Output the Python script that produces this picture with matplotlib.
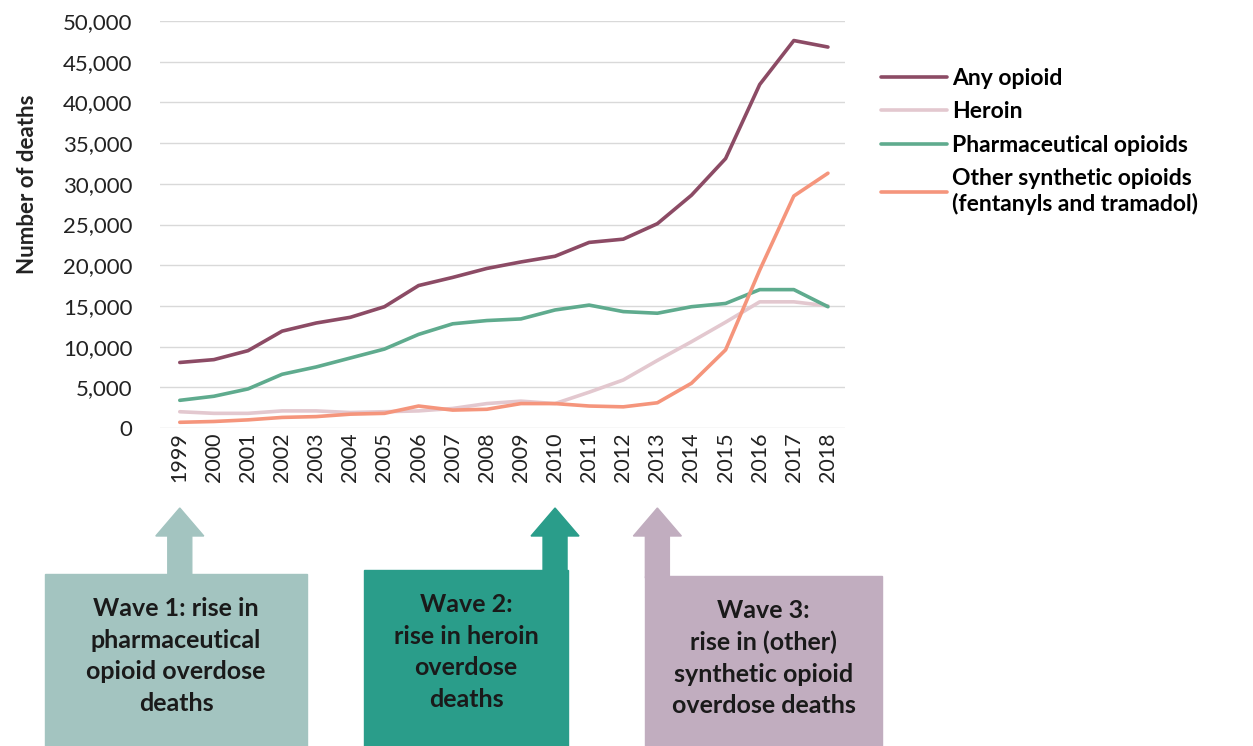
import matplotlib.pyplot as plt
from matplotlib.patches import Rectangle, Polygon

plt.rcParams['font.family'] = ['Lato', 'DejaVu Sans']

years = list(range(1999, 2019))
any_opioid = [8050, 8400, 9500, 11900, 12900, 13600, 14900, 17500, 18500, 19600,
              20400, 21100, 22800, 23200, 25100, 28600, 33100, 42200, 47600, 46800]
heroin = [2000, 1800, 1800, 2100, 2100, 1900, 2000, 2100, 2400, 3000,
          3300, 3000, 4400, 5900, 8300, 10600, 13000, 15500, 15500, 15000]
pharma = [3400, 3900, 4800, 6600, 7500, 8600, 9700, 11500, 12800, 13200,
          13400, 14500, 15100, 14300, 14100, 14900, 15300, 17000, 17000, 14900]
synthetic = [700, 800, 1000, 1300, 1400, 1700, 1800, 2700, 2200, 2300,
             3000, 3000, 2700, 2600, 3100, 5500, 9600, 19400, 28500, 31300]

series_names = ['Any opioid', 'Heroin', 'Pharmaceutical opioids',
                'Other synthetic opioids\n(fentanyls and tramadol)']
colors = ['#8c4b65', '#e3c8cf', '#5fab8e', '#f5957c']

wave_texts = ['Wave 1: rise in\npharmaceutical\nopioid overdose\ndeaths',
              'Wave 2:\nrise in heroin\noverdose\ndeaths',
              'Wave 3:\nrise in (other)\nsynthetic opioid\noverdose deaths']
wave_years = [1999, 2010, 2013]
wave_colors = ['#a3c4c0', '#2a9d8a', '#c1adbf']

W, H = 1253, 746
fig = plt.figure(figsize=(W / 100, H / 100), dpi=100)
ax = fig.add_axes([160 / W, 1 - 428 / H, (845 - 160) / W, (428 - 21) / H])

for vals, name, c in zip([any_opioid, heroin, pharma, synthetic], series_names, colors):
    ax.plot(years, vals, color=c, lw=2.6, label=name, solid_capstyle='round')

ax.set_ylim(0, 50000)
ax.set_xlim(1998.42, 2018.5)
ax.set_yticks(range(0, 50001, 5000))
ax.set_yticklabels([f'{v:,}' for v in range(0, 50001, 5000)], fontsize=16, color='#222222')
ax.set_xticks(years)
ax.set_xticklabels([str(y) for y in years], rotation=90, fontsize=15.5, color='#222222')
ax.tick_params(axis='y', length=0, pad=20)
ax.tick_params(axis='x', length=0, pad=3)
ax.grid(axis='y', color='#d9d9d9', lw=1)
for s in ax.spines.values():
    s.set_visible(False)
ax.set_ylabel('Number of deaths', fontsize=16, fontweight='bold', color='#222222')
ax.yaxis.set_label_coords(-0.178, 0.6)

fig.legend(loc='upper left', bbox_to_anchor=(860 / W, 1 - 47 / H), frameon=False,
           prop={'weight': 'bold', 'size': 16.5}, handlelength=2.9,
           handletextpad=0.2, labelspacing=0.55)

# wave boxes and arrows, in pixel coords
boxes = [(45, 307, 574), (364, 568, 570), (645, 882, 576)]
for (x0, x1, top), yr, c, txt in zip(boxes, wave_years, wave_colors, wave_texts):
    ax_px = ax.transData.transform((yr, 0))[0]
    fig.patches.append(Rectangle((x0 / W, 0), (x1 - x0) / W, 1 - top / H,
                                 transform=fig.transFigure, color=c, zorder=1))
    shaft = 12
    head = 24
    pts = [(ax_px - shaft, top + 2), (ax_px - shaft, 536), (ax_px - head, 536),
           (ax_px, 508), (ax_px + head, 536), (ax_px + shaft, 536), (ax_px + shaft, top + 2)]
    fig.patches.append(Polygon([(x / W, 1 - y / H) for x, y in pts], closed=True,
                               transform=fig.transFigure, color=c, zorder=1))
    fig.text((x0 + x1) / 2 / W, 1 - (top + 82) / H, txt, ha='center', va='center',
             fontsize=18, fontweight='bold', color='#1a1a1a', linespacing=1.45)

fig.savefig('out.png', dpi=100)
